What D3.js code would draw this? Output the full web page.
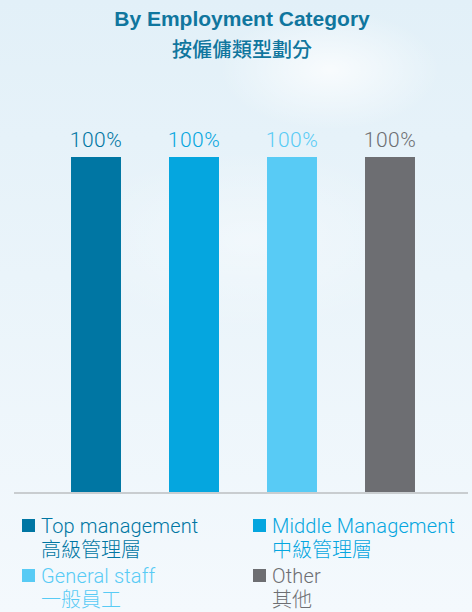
<!DOCTYPE html>
<html>
<head>
<meta charset="utf-8">
<script src="https://cdn.jsdelivr.net/npm/d3@7"></script>
<style>
  html, body { margin: 0; padding: 0; }
  body { width: 472px; height: 612px; overflow: hidden; }
  svg { display: block; }
</style>
</head>
<body>
<svg id="chart" width="472" height="612"></svg>
<script>
// Share of employees by category (percent)
const categories = ["Top management", "Middle Management", "General staff", "Other"];
const categoriesZh = ["高級管理層", "中級管理層", "一般員工", "其他"];
const values = [100, 100, 100, 100];
const colors = ["#0076a3", "#05a6df", "#58cbf5", "#6d6e72"];
const valueLabels = ["100%", "100%", "100%", "100%"];
const titleEn = "By Employment Category";
const titleZh = "按僱傭類型劃分";

const W = 472, H = 612;
const svg = d3.select("#chart");
const defs = svg.append("defs");

// Soft sky background
const bg = defs.append("linearGradient").attr("id", "bg").attr("x1", 0).attr("y1", 0).attr("x2", 0).attr("y2", 1);
bg.append("stop").attr("offset", "0").attr("stop-color", "#e2f0f8");
bg.append("stop").attr("offset", "0.45").attr("stop-color", "#eaf4fa");
bg.append("stop").attr("offset", "1").attr("stop-color", "#f4f9fd");
svg.append("rect").attr("width", W).attr("height", H).attr("fill", "url(#bg)");

const glow = defs.append("radialGradient").attr("id", "glow");
glow.append("stop").attr("offset", "0").attr("stop-color", "#ffffff").attr("stop-opacity", 0.75);
glow.append("stop").attr("offset", "1").attr("stop-color", "#ffffff").attr("stop-opacity", 0);
svg.append("ellipse").attr("cx", 330).attr("cy", 70).attr("rx", 110).attr("ry", 60).attr("fill", "url(#glow)");
svg.append("ellipse").attr("cx", 250).attr("cy", 240).attr("rx", 180).attr("ry", 90).attr("fill", "url(#glow)").attr("opacity", 0.5);

// Titles
svg.append("text").attr("x", 242).attr("y", 26).attr("text-anchor", "middle")
  .attr("font-family", "'Liberation Sans', Arial, sans-serif").attr("font-weight", "bold")
  .attr("font-size", 21).attr("fill", "#10769e").text(titleEn);
svg.append("text").attr("x", 242).attr("y", 57).attr("text-anchor", "middle")
  .attr("font-family", "'Noto Sans CJK TC', sans-serif").attr("font-weight", 500)
  .attr("font-size", 20).attr("fill", "#10769e").text(titleZh);

// Scales: 50px bars on a 98px step
const x = d3.scaleBand().domain(categories).range([47, 439]).paddingInner(0.49).paddingOuter(0.245);
const y = d3.scaleLinear().domain([0, 100]).range([492, 157]);

// Bars
svg.append("g").selectAll("rect").data(values).join("rect")
  .attr("x", (d, i) => x(categories[i]))
  .attr("width", x.bandwidth())
  .attr("y", d => y(d))
  .attr("height", d => y(0) - y(d))
  .attr("fill", (d, i) => colors[i]);

// Value labels
svg.append("g").selectAll("text").data(values).join("text")
  .attr("x", (d, i) => x(categories[i]) + x.bandwidth() / 2)
  .attr("y", d => y(d) - 10)
  .attr("text-anchor", "middle")
  .attr("font-family", "Roboto, 'Open Sans', sans-serif").attr("font-weight", 300)
  .attr("font-size", 21).attr("letter-spacing", 0.5).attr("fill", (d, i) => colors[i])
  .text((d, i) => valueLabels[i]);

// Baseline
svg.append("line").attr("x1", 14).attr("x2", 468).attr("y1", y(0) + 1).attr("y2", y(0) + 1)
  .attr("stroke", "#c9cdd0").attr("stroke-width", 2);

// Legend: swatch plus a two-line (English / Chinese) label
const legendPos = [[22, 519], [253, 519], [22, 569], [253, 569]];
const lg = svg.append("g").selectAll("g").data(categories).join("g")
  .attr("transform", (d, i) => `translate(${legendPos[i][0]},${legendPos[i][1]})`);
lg.append("rect").attr("width", 13).attr("height", 13).attr("fill", (d, i) => colors[i]);
const lt = lg.append("text").attr("x", 19).attr("y", 14)
  .attr("font-size", 20).attr("font-weight", 300).attr("fill", (d, i) => colors[i]);
lt.append("tspan").attr("x", 19)
  .attr("font-family", "Roboto, 'Open Sans', sans-serif").attr("letter-spacing", 0.15)
  .text(d => d);
lt.append("tspan").attr("x", 19).attr("dy", 23.5)
  .attr("font-family", "'Noto Sans CJK TC', sans-serif")
  .text((d, i) => categoriesZh[i]);
</script>
</body>
</html>
